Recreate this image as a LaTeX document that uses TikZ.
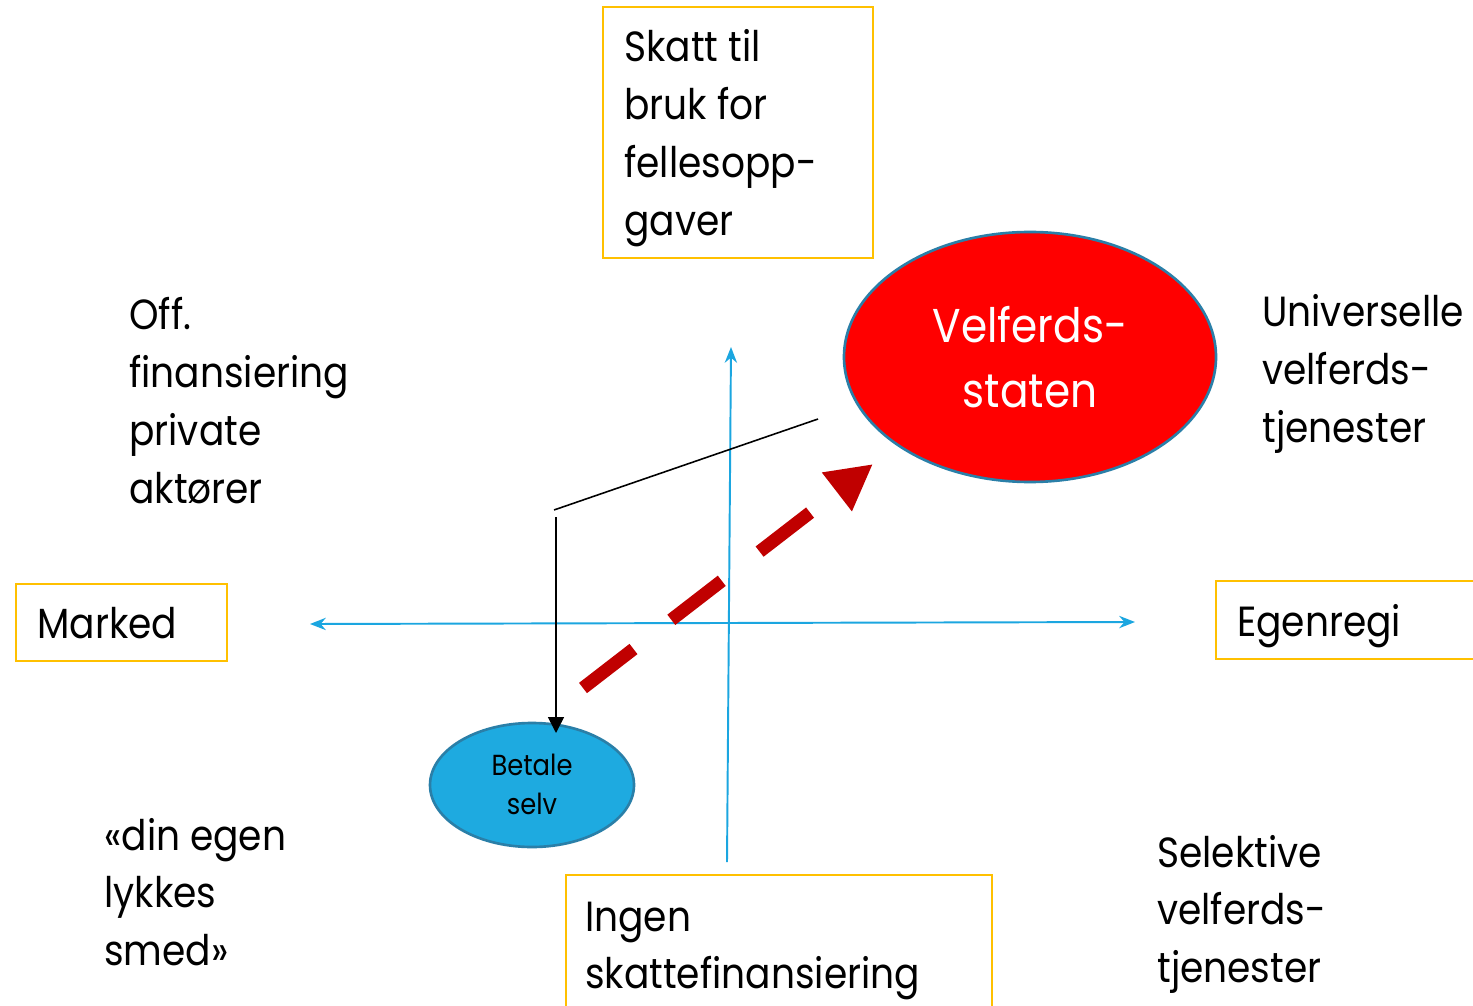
\documentclass[tikz,border=0pt]{standalone}
\usepackage{fontspec}
\setmainfont{Poppins}[FakeStretch=0.89]
\usetikzlibrary{arrows.meta,shapes.geometric}
\definecolor{boxorange}{HTML}{FFC000}
\definecolor{axisblue}{HTML}{1BA6E0}
\definecolor{darkred}{HTML}{C00000}
\definecolor{ellblue}{HTML}{1EAAE0}
\definecolor{rimblue}{HTML}{2A7FA8}
\newcommand\txtblock[1]{\begin{tabular}[t]{@{}l@{}}#1\end{tabular}}
\newcommand\ctrblock[1]{\begin{tabular}[t]{@{}c@{}}#1\end{tabular}}
\begin{document}
\begin{tikzpicture}[x=0.02cm,y=-0.02cm,
  framebox/.style={draw=boxorange,line width=1.2pt},
  label/.style={anchor=base west,inner sep=0pt,font=\fontsize{24}{32.9}\selectfont},
  axis/.style={draw=axisblue,line width=1.1pt}]
\useasboundingbox (0,0) rectangle (1473,1006);
\fill[white] (0,0) rectangle (1473,1006);

% boxes
\draw[framebox] (603,7) rectangle (873,258);
\draw[framebox] (16,584) rectangle (227,661);
\draw[framebox] (1216,581) rectangle (1490,659);
\draw[framebox] (566,875) rectangle (992,1020);

% texts
\node[label] (skatt) at (624,62) {\txtblock{Skatt til\\bruk for\\fellesopp-\\gaver}};
\node[label] (off) at (129,330) {\txtblock{Off.\\finansiering\\private\\aktører}};
\node[label] (univ) at (1262,327) {\txtblock{Universelle\\velferds-\\tjenester}};
\node[label] (marked) at (37,638) {Marked};
\node[label] (egen) at (1237,636) {Egenregi};
\node[label] (din) at (104,850) {\txtblock{«din egen\\lykkes\\smed»}};
\node[label] (ingen) at (585,931) {\txtblock{Ingen\\skattefinansiering}};
\node[label] (selek) at (1157,867) {\txtblock{Selektive\\velferds-\\tjenester}};

% axes
\coordinate (hl) at (310,624);
\coordinate (hr) at (1135,622);
\coordinate (vb) at (727,862);
\coordinate (vt) at (731,347);
\draw[axis,{Stealth[length=9pt,width=7pt]}-{Stealth[length=9pt,width=7pt]}] (hl) -- (hr);
\draw[axis,-{Stealth[length=9pt,width=7pt]}] (vb) -- (vt);

% ellipses
\node[ellipse,draw=rimblue,line width=1.5pt,fill=red,minimum width=372*0.02cm,minimum height=250*0.02cm,inner sep=0pt] (vel) at (1030,357) {};
\node[anchor=base,inner sep=0pt,text=white,font=\fontsize{27}{36.5}\selectfont] (veltext) at (1030,343) {\ctrblock{Velferds-\\staten}};
\node[ellipse,draw=rimblue,line width=1.5pt,fill=ellblue,minimum width=204*0.02cm,minimum height=124*0.02cm,inner sep=0pt] (betale) at (532,785) {};
\node[anchor=base,inner sep=0pt,font=\fontsize{16.5}{22.7}\selectfont] (bettext) at (532,775) {\ctrblock{Betale\\selv}};

% black connector
\coordinate (b1) at (818,419);
\coordinate (b2) at (554,510);
\coordinate (b3) at (556,517);
\coordinate (b4) at (556,733);
\draw[line width=0.9pt] (b1) -- (b2);
\draw[line width=0.9pt,-{Triangle[length=9pt,width=9pt]}] (b3) -- (b4);

% red dashed arrow
\coordinate (r1) at (583,688);
\coordinate (r2) at (873,464);
\draw[darkred,line width=7.4pt,dash pattern=on 36.3pt off 27.2pt,-{Triangle[length=26pt,width=26pt]}] (r1) -- (r2);
\end{tikzpicture}
\end{document}
